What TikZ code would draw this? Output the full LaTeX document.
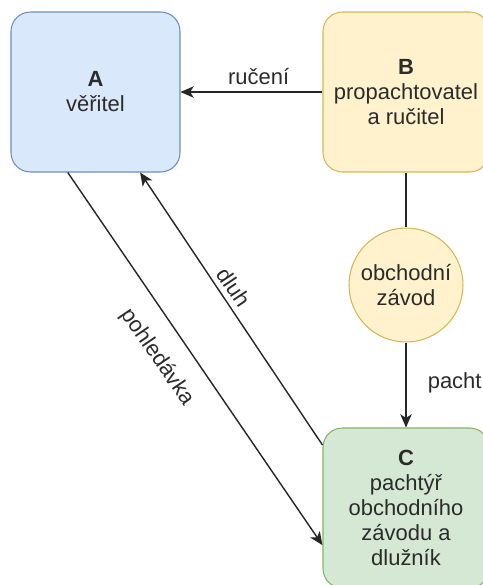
\documentclass[tikz,border=0pt]{standalone}
\usepackage{fontspec}
\setmainfont{Liberation Sans}
\usetikzlibrary{arrows.meta}
\definecolor{veritelfill}{HTML}{DAE8FC}
\definecolor{veriteldraw}{HTML}{6C8EBF}
\definecolor{rucitelfill}{HTML}{FFF2CC}
\definecolor{ruciteldraw}{HTML}{D6B656}
\definecolor{dluznikfill}{HTML}{D5E8D4}
\definecolor{dluznikdraw}{HTML}{82B366}
\definecolor{textgray}{HTML}{2B2B2B}

\begin{document}
\begin{tikzpicture}[x=0.02cm, y=-0.02cm,
  every node/.style={font=\fontsize{12.5}{14.2}\selectfont, text=textgray, inner sep=1pt},
  party/.style={draw, line width=0.6pt, rounded corners=11pt, align=center,
    minimum height=3.2cm},
  zavodcircle/.style={circle, draw=ruciteldraw, fill=rucitelfill, line width=0.6pt,
    align=center, minimum size=2.28cm},
  link/.style={draw=black!85, line width=0.8pt},
  arr/.style={link, -{Stealth[length=7.5pt, width=6.5pt, inset=2pt]}}]
\useasboundingbox (0,0) rectangle (483,585);
\clip (0,0) rectangle (483,585);
\coordinate (PA) at (95.5, 92);
\coordinate (PB) at (406, 92);
\coordinate (PZ) at (406, 285);
\coordinate (PC) at (406, 508);
\node[party, fill=veritelfill, draw=veriteldraw, minimum width=3.38cm] (A) at (PA)
  {\textbf{A}\\věřitel};
\node[party, fill=rucitelfill, draw=ruciteldraw, minimum width=3.32cm] (B) at (PB)
  {\textbf{B}\\propachtovatel\\a ručitel};
\node[zavodcircle] (Z) at (PZ) {obchodní\\závod};
\node[party, fill=dluznikfill, draw=dluznikdraw, minimum width=3.32cm] (C) at (PC)
  {\textbf{C}\\pachtýř\\obchodního\\závodu a\\dlužník};
\draw[arr] (B.west) to node[pos=0.45, above=3pt] {ručení} (A.east);
\draw[link] (B.south) -- (Z.north);
\draw[arr] (Z.south) to node[pos=0.47, right=11pt] {pacht} (C.north);
\draw[arr] (A.251) to node[pos=0.45, sloped, below=10pt] {pohledávka} (C.204);
\draw[arr] (C.143.7) to node[pos=0.55, sloped, above=2pt] {dluh} (A.299.1);
\end{tikzpicture}
\end{document}
